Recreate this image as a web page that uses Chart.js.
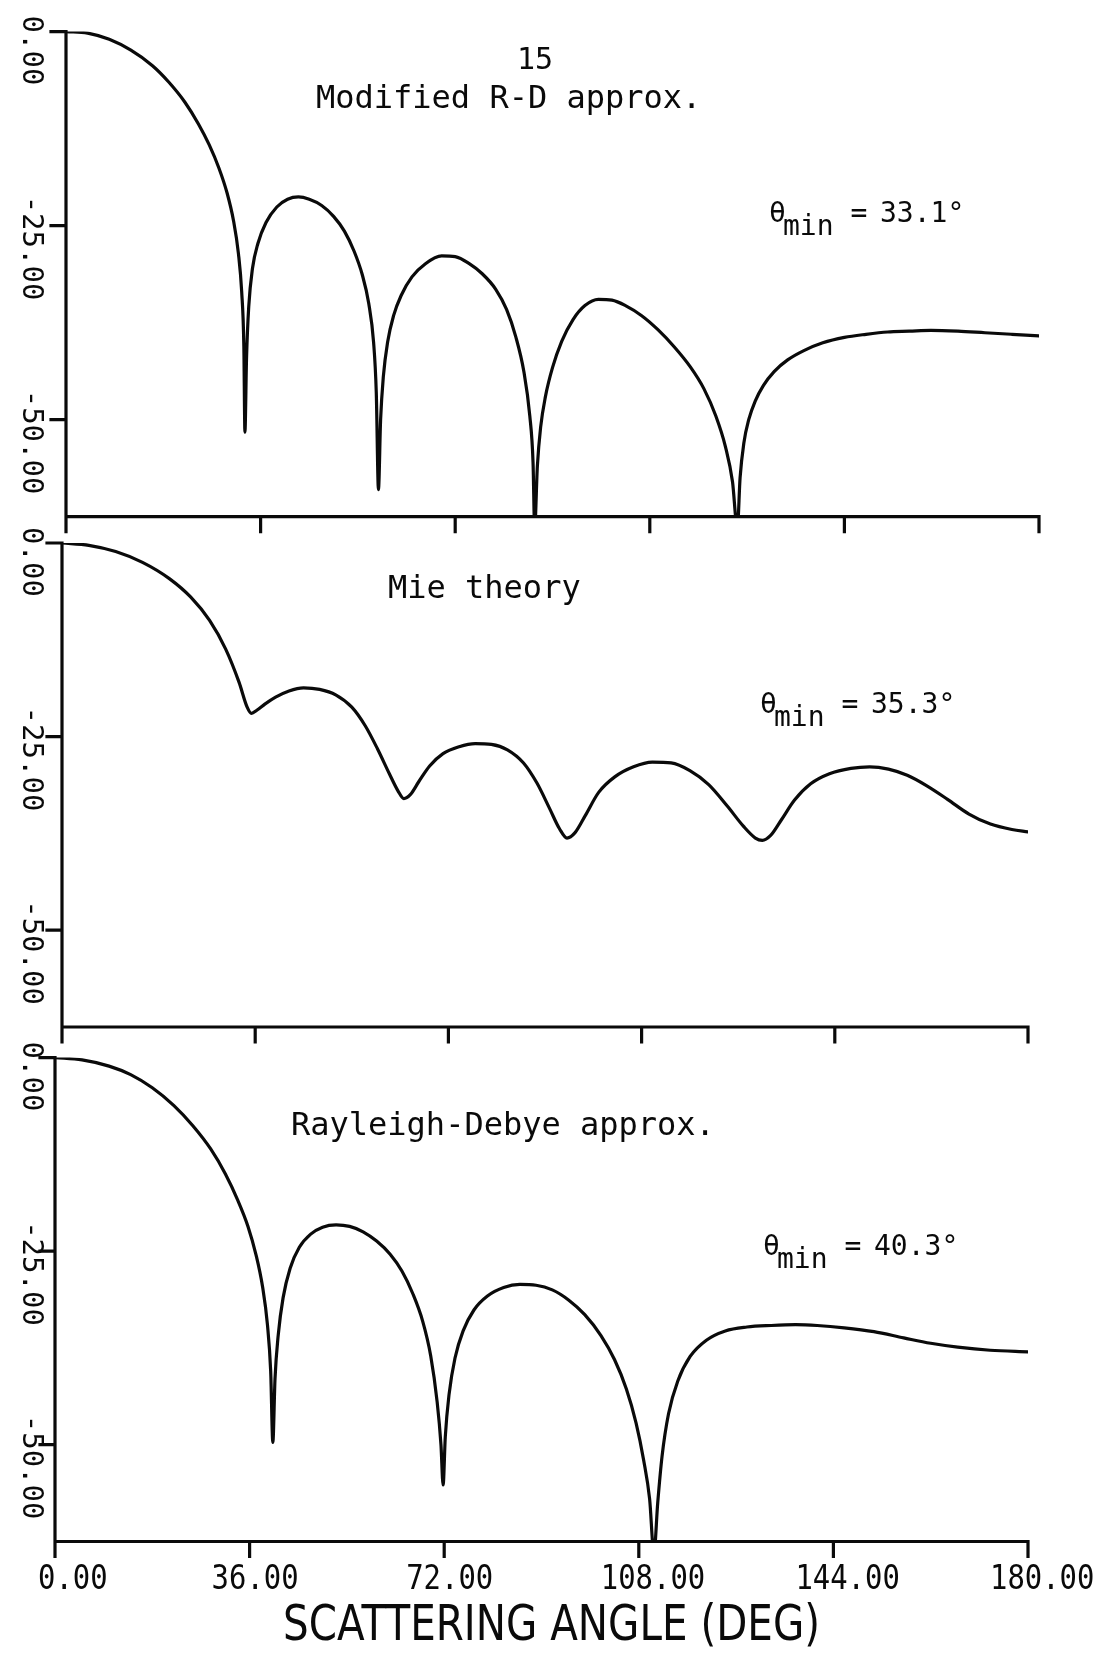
<!DOCTYPE html>
<html>
<head>
<meta charset="utf-8">
<title>Scattering angle</title>
<script src="https://cdn.jsdelivr.net/npm/chart.js@4.4.1/dist/chart.umd.min.js"></script>
<style>
  html, body { margin: 0; padding: 0; background: #fff; }
  #page { position: relative; width: 1105px; height: 1653px; background: #fff; overflow: hidden; }
  #page canvas { position: absolute; left: 0; top: 0; }
</style>
</head>
<body>
<div id="page">
  <canvas id="panelRD" width="1105" height="1653"></canvas>
  <canvas id="panelMie" width="1105" height="1653"></canvas>
  <canvas id="panelRay" width="1105" height="1653"></canvas>
</div>
<script>
// ---- data -------------------------------------------------------------
const xTicks = [0, 36, 72, 108, 144, 180];
const yTicks = [0, -25, -50];
const yMin = -62.5;

const pageNumber = '15';
const panelTitles = ['Modified R-D approx.', 'Mie theory', 'Rayleigh-Debye approx.'];
const thetaMin = [33.1, 35.3, 40.3];
const xAxisTitle = 'SCATTERING ANGLE (DEG)';

// Modified Rayleigh-Debye approximation: angle (deg) and level (dB)
const rdAngles = [0, 4, 8, 12, 16, 19, 22, 24.5, 26.5, 28.3,
  29.8, 31.0, 31.9, 32.5, 32.9, 33.1, 33.4, 33.8, 34.5, 35.5,
  37.0, 39.0, 41.0, 43.0, 45.0, 47.3, 49.5, 51.5, 53.3, 54.8,
  56.0, 56.9, 57.4, 57.8, 58.2, 58.7, 59.5, 60.6, 62.0, 64.0,
  66.5, 69.5, 72.0, 74.6, 77.0, 79.5, 81.5, 83.2, 84.7, 85.8,
  86.4, 86.7, 87.2, 87.8, 88.7, 90.0, 91.7, 93.8, 96.0, 98.5,
  101.0, 103.5, 106.5, 109.5, 112.5, 115.5, 118.0, 120.2, 122.0, 123.3,
  124.2, 124.7, 125.4, 126.3, 127.5, 129.0, 131.0, 133.5, 136.5, 140.0,
  144.0, 148.0, 152.0, 156.0, 160.0, 165.0, 170.0, 175.0, 180];
const rdValues = [0, -0.2, -1.0, -2.4, -4.4, -6.5, -9.1, -11.9, -14.6, -17.6,
  -20.8, -24.4, -28.6, -33.5, -40.5, -51.6, -42.0, -35.5, -30.5, -27.3,
  -24.6, -22.6, -21.6, -21.3, -21.6, -22.4, -23.8, -25.7, -28.3, -31.3,
  -35.0, -40.0, -46.5, -59.0, -50.0, -44.5, -40.0, -36.6, -34.0, -31.6,
  -29.9, -28.9, -29.0, -29.9, -31.2, -33.2, -35.8, -39.3, -43.8, -49.5,
  -55.5, -64.0, -56.0, -51.0, -47.0, -43.3, -39.9, -37.1, -35.3, -34.5,
  -34.6, -35.3, -36.6, -38.4, -40.6, -43.2, -46.0, -49.5, -53.5, -58.0,
  -64.0, -57.5, -53.0, -50.0, -47.6, -45.6, -43.8, -42.3, -41.1, -40.1,
  -39.4, -39.0, -38.7, -38.6, -38.5, -38.6, -38.8, -39.0, -39.2];

// Mie theory
const mieAngles = [0, 5, 10, 15, 20, 24, 27.5, 30.5, 33.0, 34.5,
  35.3, 36.3, 37.8, 39.8, 42.3, 45.0, 48.0, 51.0, 54.0, 56.5,
  58.8, 61.0, 62.6, 63.7, 64.9, 66.5, 68.5, 71.0, 74.0, 77.0,
  80.0, 83.0, 86.0, 88.5, 90.8, 92.7, 94.1, 95.6, 97.5, 100.0,
  103.0, 106.5, 110.0, 113.5, 117.0, 120.5, 124.0, 127.0, 129.2, 130.5,
  132.0, 134.0, 136.5, 139.5, 143.0, 147.0, 150.5, 154.0, 157.5, 161.0,
  165.0, 169.0, 173.0, 177.0, 180];
const mieValues = [0, -0.3, -1.1, -2.5, -4.6, -7.0, -10.0, -13.7, -18.0, -21.2,
  -22.0, -21.6, -20.8, -19.9, -19.1, -18.7, -18.9, -19.6, -21.2, -23.6,
  -26.6, -29.8, -32.0, -33.0, -32.5, -30.8, -28.8, -27.2, -26.3, -25.9,
  -26.0, -26.7, -28.4, -31.0, -34.2, -36.9, -38.1, -37.4, -35.2, -32.2,
  -30.2, -28.9, -28.3, -28.4, -29.4, -31.2, -34.0, -36.6, -38.1, -38.4,
  -37.8, -35.8, -33.2, -31.1, -29.8, -29.1, -28.9, -29.2, -30.0, -31.3,
  -33.1, -35.0, -36.3, -37.0, -37.3];

// Rayleigh-Debye approximation
const rayAngles = [0, 5, 10, 14, 18, 22, 25.5, 28.8, 31.5, 33.8,
  35.7, 37.2, 38.4, 39.3, 39.9, 40.3, 40.7, 41.3, 42.2, 43.5,
  45.2, 47.3, 49.5, 52.0, 54.5, 57.0, 59.5, 62.0, 64.2, 66.2,
  68.0, 69.5, 70.7, 71.4, 71.8, 72.2, 72.9, 74.0, 75.5, 77.5,
  80.0, 83.0, 86.0, 89.0, 92.0, 95.0, 98.0, 101.0, 103.5, 105.7,
  107.5, 108.9, 110.0, 110.8, 111.5, 112.3, 113.5, 115.2, 117.5, 120.5,
  124.0, 128.0, 132.5, 137.0, 141.0, 146.0, 151.5, 157.0, 162.0, 167.0,
  173.0, 180];
const rayValues = [0, -0.3, -1.1, -2.2, -3.9, -6.2, -8.8, -11.8, -15.0, -18.4,
  -21.8, -25.5, -29.6, -34.5, -40.5, -49.7, -41.5, -35.8, -31.0, -27.2,
  -24.5, -22.8, -21.9, -21.6, -21.8, -22.5, -23.7, -25.4, -27.6, -30.5,
  -34.0, -38.5, -44.5, -50.0, -55.2, -49.0, -43.5, -38.8, -35.3, -32.6,
  -30.8, -29.7, -29.3, -29.4, -30.0, -31.3, -33.2, -35.9, -39.0, -42.8,
  -47.2, -52.0, -57.0, -64.0, -57.5, -51.5, -46.0, -41.8, -38.6, -36.5,
  -35.3, -34.8, -34.6, -34.5, -34.6, -34.9, -35.4, -36.2, -36.9, -37.4,
  -37.8, -38.0];

// ---- drawing ----------------------------------------------------------
const INK = '#0a0a0a';
const PAGE_W = 1105, PAGE_H = 1653;
const MONO = '"DejaVu Sans Mono", "Liberation Mono", monospace';

const plotterFrame = {
  id: 'plotterFrame',
  afterDatasetsDraw(chart, args, o) {
    const { ctx, chartArea: a, scales: { x, y } } = chart;
    ctx.save();
    ctx.strokeStyle = INK;
    ctx.fillStyle = INK;
    ctx.lineWidth = 3.2;
    ctx.lineCap = 'square';

    // axis lines with outward tick marks
    ctx.beginPath();
    ctx.moveTo(a.left, y.getPixelForValue(yTicks[0]));
    ctx.lineTo(a.left, a.bottom);
    ctx.lineTo(a.right, a.bottom);
    xTicks.forEach(v => {
      const px = x.getPixelForValue(v);
      ctx.moveTo(px, a.bottom);
      ctx.lineTo(px, a.bottom + 15);
    });
    yTicks.forEach(v => {
      const py = y.getPixelForValue(v);
      ctx.moveTo(a.left, py);
      ctx.lineTo(a.left - 15, py);
    });
    ctx.stroke();

    // y tick labels, turned to read downwards
    ctx.font = '29px ' + MONO;
    ctx.textBaseline = 'alphabetic';
    ctx.textAlign = 'left';
    yTicks.forEach(v => {
      const py = y.getPixelForValue(v);
      ctx.save();
      ctx.translate(23, py - 16 - (v < 0 ? 14 : 0));
      ctx.rotate(Math.PI / 2);
      ctx.fillText(v.toFixed(2), 0, 0);
      ctx.restore();
    });

    // x tick labels and axis title on the lowest panel
    if (o.xLabels) {
      ctx.font = '34px ' + MONO;
      xTicks.forEach((v, i) => {
        const px = x.getPixelForValue(v) - (i === 0 ? 17 : 38);
        ctx.save();
        ctx.translate(px, a.bottom + 47);
        ctx.scale(0.85, 1);
        ctx.fillText(v.toFixed(2), 0, 0);
        ctx.restore();
      });
      ctx.font = '50px "DejaVu Sans", sans-serif';
      const sx = 537 / ctx.measureText(xAxisTitle).width;
      ctx.save();
      ctx.translate(283, 1640);
      ctx.scale(sx, 1);
      ctx.fillText(xAxisTitle, 0, 0);
      ctx.restore();
    }

    // panel annotations
    const n = o.note;
    if (n.page) {
      ctx.font = '30px ' + MONO;
      ctx.fillText(n.page, n.pageX, n.pageY);
    }
    ctx.font = '32px ' + MONO;
    ctx.fillText(n.title, n.titleX, n.titleY);

    ctx.font = '28px ' + MONO;
    ctx.fillText('\u03B8', n.thX, n.thY);
    ctx.fillText('min', n.thX + 14, n.thY + 13);
    ctx.textAlign = 'center';
    ctx.fillText('=', n.thX + 90, n.thY);
    ctx.textAlign = 'left';
    ctx.fillText(n.theta.toFixed(1) + '\u00B0', n.thX + 111, n.thY);
    ctx.restore();
  }
};

function makePanel(id, angles, values, area, note, xLabels) {
  return new Chart(document.getElementById(id), {
    type: 'line',
    data: {
      datasets: [{
        data: angles.map((a, i) => ({ x: a, y: values[i] })),
        borderColor: INK,
        borderWidth: 3.2,
        pointRadius: 0,
        fill: false,
        cubicInterpolationMode: 'monotone',
        borderJoinStyle: 'round',
        borderCapStyle: 'round'
      }]
    },
    options: {
      responsive: false,
      animation: false,
      devicePixelRatio: 1,
      layout: {
        padding: {
          left: area.left, right: PAGE_W - area.right,
          top: area.top, bottom: PAGE_H - area.bottom
        }
      },
      scales: {
        x: { type: 'linear', min: 0, max: 180, display: false },
        y: { type: 'linear', min: yMin, max: 0, display: false }
      },
      plugins: {
        legend: { display: false },
        tooltip: { enabled: false },
        plotterFrame: { note: note, xLabels: xLabels }
      }
    },
    plugins: [plotterFrame]
  });
}

makePanel('panelRD', rdAngles, rdValues,
  { left: 66, right: 1039, top: 31.6, bottom: 516.7 },
  { page: pageNumber, pageX: 517, pageY: 69,
    title: panelTitles[0], titleX: 316, titleY: 108,
    theta: thetaMin[0], thX: 769, thY: 222 }, false);

makePanel('panelMie', mieAngles, mieValues,
  { left: 62, right: 1028, top: 543, bottom: 1027 },
  { title: panelTitles[1], titleX: 388, titleY: 598,
    theta: thetaMin[1], thX: 760, thY: 713 }, false);

makePanel('panelRay', rayAngles, rayValues,
  { left: 55, right: 1028, top: 1057.6, bottom: 1541.5 },
  { title: panelTitles[2], titleX: 291, titleY: 1135,
    theta: thetaMin[2], thX: 763, thY: 1255 }, true);
</script>
</body>
</html>
